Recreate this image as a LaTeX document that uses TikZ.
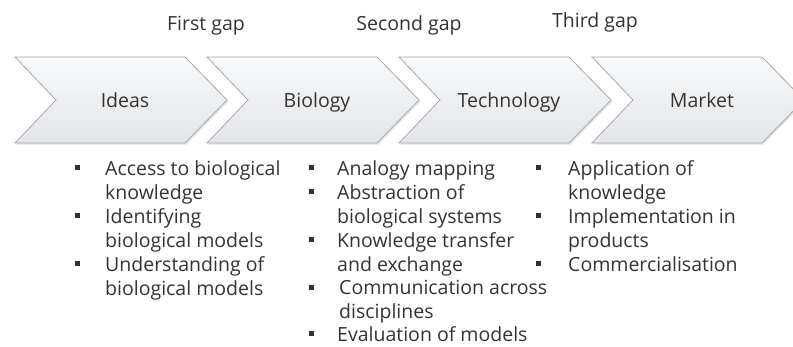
\documentclass[tikz,border=0pt]{standalone}
\usepackage{fontspec}
\setmainfont{Open Sans}
\usetikzlibrary{positioning}

\definecolor{txtgray}{HTML}{333333}
\definecolor{chevedge}{HTML}{A6A8AB}
\definecolor{chevtop}{HTML}{F8F9FA}
\definecolor{chevbot}{HTML}{E3E5E8}

\begin{document}
\begin{tikzpicture}[x=1pt,y=-1pt,
    chevron/.style={draw=chevedge, line width=0.8pt, top color=chevtop, bottom color=chevbot},
    stage/.style={anchor=base, inner sep=0pt, text=txtgray, font=\fontsize{19.5}{22}\selectfont},
    gaplabel/.style={anchor=base, inner sep=0pt, text=txtgray, font=\fontsize{19.5}{22}\selectfont},
    item/.style={anchor=base west, align=left, inner sep=0pt, text=txtgray, font=\fontsize{19.5}{24}\selectfont},
    bullet/.style={fill=black!80, minimum size=5pt, inner sep=0pt}]
  \useasboundingbox (0,0) rectangle (793,346);
  % gaps
  \node[gaplabel] (gap1) at (206,30) {First gap};
  \node[gaplabel] (gap2) at (409,30) {Second gap};
  \node[gaplabel] (gap3) at (595,27) {Third gap};
  % chevrons
  \foreach \L/\name/\lab in {15/ideas/Ideas, 207/biology/Biology, 399/tech/Technology, 592/market/Market}{
    \fill[black!10] (\L+1.5,58.5) -- (\L+171.5,58.5) -- (\L+213.5,101.5) -- (\L+171.5,144.5) -- (\L+1.5,144.5) -- (\L+42.5,101.5) -- cycle;
    \draw[chevron] (\L,57) -- (\L+170,57) -- (\L+212,100) -- (\L+170,143) -- (\L,143) -- (\L+41,100) -- cycle;
    \node[stage] (\name) at (\L+110,107) {\lab};
  }
  % ideas -> biology (base of a two-line item is its last line)
  \node[bullet] (b11) at (77,167) {};
  \node[item] (i11) at (105,199) {Access to biological\\knowledge};
  \node[bullet] (b12) at (77,215) {};
  \node[item] (i12) at (105,247) {Identifying\\biological models};
  \node[bullet] (b13) at (77,263) {};
  \node[item] (i13) at (105,295) {Understanding of\\biological models};
  % biology -> technology
  \node[bullet] (b21) at (311,167) {};
  \node[item] (i21) at (337,175) {Analogy mapping};
  \node[bullet] (b22) at (311,191) {};
  \node[item] (i22) at (337,223) {Abstraction of\\biological systems};
  \node[bullet] (b23) at (311,239) {};
  \node[item] (i23) at (337,271) {Knowledge transfer\\and exchange};
  \node[bullet] (b24) at (311,287) {};
  \node[item] (i24) at (339,318) {Communication across\\disciplines};
  \node[bullet] (b25) at (311,333) {};
  \node[item] (i25) at (337,341) {Evaluation of models};
  % technology -> market
  \node[bullet] (b31) at (538,167) {};
  \node[item] (i31) at (568,199) {Application of\\knowledge};
  \node[bullet] (b32) at (538,215) {};
  \node[item] (i32) at (568,247) {Implementation in\\products};
  \node[bullet] (b33) at (538,263) {};
  \node[item] (i33) at (568,271) {Commercialisation};
\end{tikzpicture}
\end{document}
